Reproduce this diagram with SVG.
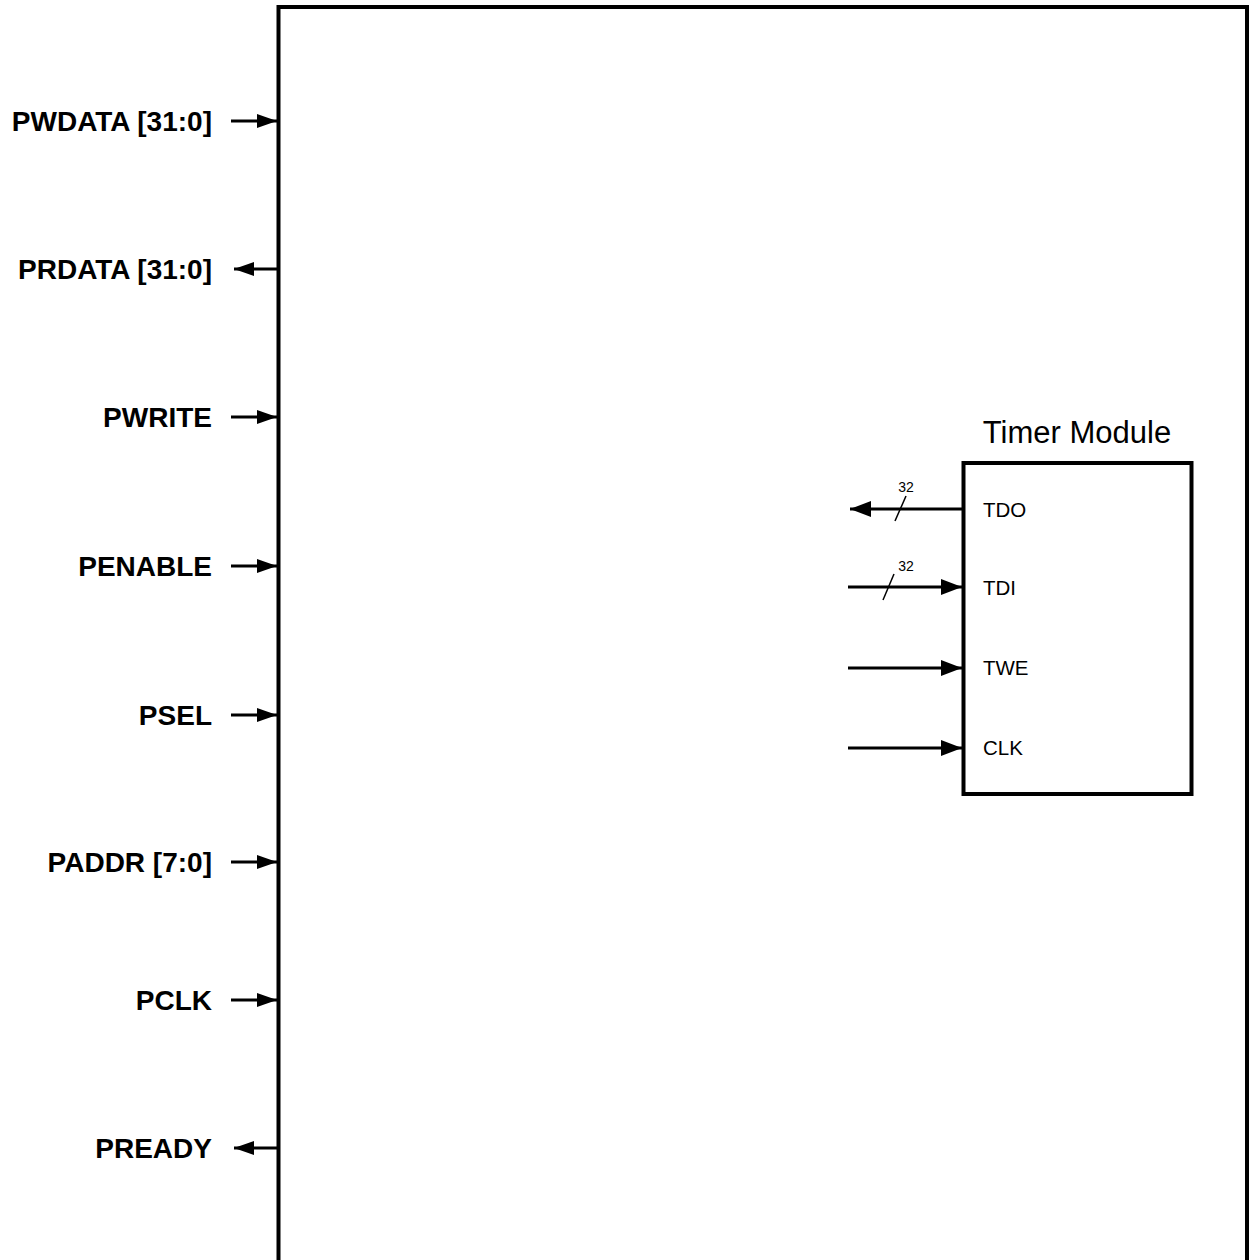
<svg xmlns="http://www.w3.org/2000/svg" width="1249" height="1260" viewBox="0 0 1249 1260">
<style>
.sig{font-family:"Liberation Sans",Arial,sans-serif;font-weight:bold;font-size:28px;fill:#000;text-anchor:end}
.port{font-family:"Liberation Sans",Arial,sans-serif;font-size:20.5px;fill:#000}
.title{font-family:"Liberation Sans",Arial,sans-serif;font-size:31px;fill:#000;text-anchor:middle}
.bw{font-family:"Liberation Sans",Arial,sans-serif;font-size:14px;fill:#000;text-anchor:middle}
.w{stroke:#000;stroke-width:3;fill:none}
.tw{stroke:#000;stroke-width:3;fill:none}
.sl{stroke:#000;stroke-width:1.5;fill:none}
</style>
<defs>
<marker id="ah" markerUnits="userSpaceOnUse" markerWidth="21" markerHeight="14" refX="20" refY="7" orient="auto">
<path d="M0,0 L20,7 L0,14 z" fill="#000"/>
</marker>
<marker id="ahb" markerUnits="userSpaceOnUse" markerWidth="22" markerHeight="16" refX="21" refY="8" orient="auto">
<path d="M0,0 L21,8 L0,16 z" fill="#000"/>
</marker>
</defs>
<rect width="1249" height="1260" fill="#fff"/>
<g id="apb_block">
<rect x="278.5" y="7" width="968.5" height="1270" fill="none" stroke="#000" stroke-width="4"/>
</g>
<g id="timer_module">
<rect x="963.5" y="463" width="228" height="331" fill="none" stroke="#000" stroke-width="4"/>
<text class="title" x="1077" y="443">Timer Module</text>
<text class="port" x="983" y="517">TDO</text>
<text class="port" x="983" y="595">TDI</text>
<text class="port" x="983" y="675">TWE</text>
<text class="port" x="983" y="755">CLK</text>
</g>
<g id="labels">
<text class="sig" x="212" y="131">PWDATA [31:0]</text>
<text class="sig" x="212" y="279">PRDATA [31:0]</text>
<text class="sig" x="212" y="427">PWRITE</text>
<text class="sig" x="212" y="576">PENABLE</text>
<text class="sig" x="212" y="725">PSEL</text>
<text class="sig" x="212" y="872">PADDR [7:0]</text>
<text class="sig" x="212" y="1010">PCLK</text>
<text class="sig" x="212" y="1158">PREADY</text>
</g>
<g id="connectors">
<line class="w" x1="231" y1="121" x2="277" y2="121" marker-end="url(#ah)"/>
<line class="w" x1="278" y1="269" x2="234" y2="269" marker-end="url(#ah)"/>
<line class="w" x1="231" y1="417" x2="277" y2="417" marker-end="url(#ah)"/>
<line class="w" x1="231" y1="566" x2="277" y2="566" marker-end="url(#ah)"/>
<line class="w" x1="231" y1="715" x2="277" y2="715" marker-end="url(#ah)"/>
<line class="w" x1="231" y1="862" x2="277" y2="862" marker-end="url(#ah)"/>
<line class="w" x1="231" y1="1000" x2="277" y2="1000" marker-end="url(#ah)"/>
<line class="w" x1="278" y1="1148" x2="234" y2="1148" marker-end="url(#ah)"/>
<line class="tw" x1="962" y1="509" x2="850" y2="509" marker-end="url(#ahb)"/>
<line class="sl" x1="906" y1="496" x2="895" y2="521"/>
<text class="bw" x="906" y="492">32</text>
<line class="tw" x1="848" y1="587" x2="962" y2="587" marker-end="url(#ahb)"/>
<line class="sl" x1="894" y1="574" x2="883" y2="600"/>
<text class="bw" x="906" y="571">32</text>
<line class="tw" x1="848" y1="668" x2="962" y2="668" marker-end="url(#ahb)"/>
<line class="tw" x1="848" y1="748" x2="962" y2="748" marker-end="url(#ahb)"/>
</g>
</svg>
